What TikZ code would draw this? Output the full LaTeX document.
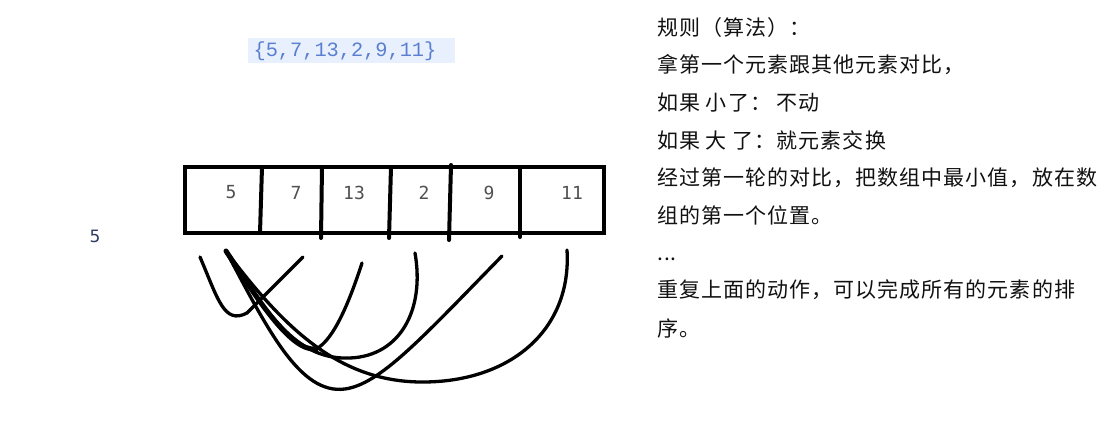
\documentclass[tikz,border=0pt]{standalone}
\usepackage{fontspec}
\setmainfont{DejaVu Sans}
\newfontfamily\cjkfont[LetterSpace=5]{Noto Sans CJK SC}
\newfontfamily\monofont{Liberation Mono}
\newfontfamily\cellfont{DejaVu Sans Mono}
\definecolor{codeblue}{HTML}{5B7FD0}
\definecolor{codebg}{HTML}{E7F0FC}
\definecolor{cellgray}{HTML}{505050}
\definecolor{leftblue}{HTML}{2C3E5E}
\definecolor{txt}{HTML}{111111}
\tikzset{
  cellnum/.style={inner sep=0pt, text=cellgray, font=\cellfont\fontsize{18}{20}\selectfont},
  rule/.style={inner sep=0pt, anchor=west, text=txt, font=\cjkfont\fontsize{21}{24}\selectfont},
  boxline/.style={line width=4pt, line cap=round},
  stroke/.style={line width=3.3pt, line cap=round, line join=round},
}
\begin{document}
\begin{tikzpicture}[x=1pt, y=-1pt]
\useasboundingbox (0,0) rectangle (1112,444);
% code text
\fill[codebg] (248,38) rectangle (455,63);
\node[inner sep=0pt, text=codeblue, font=\monofont\fontsize{20.3}{22}\selectfont] (code) at (345,51) {\{5,7,13,2,9,11\}};
% left 5
\node[inner sep=0pt, text=leftblue, font=\fontsize{17}{20}\selectfont] (lone) at (95,236) {5};
% array box
\draw[boxline] (185,167) rectangle (604,233);
\draw[boxline] (262,167) -- (260,233);
\draw[boxline] (322,167) -- (321,238);
\draw[boxline] (391,167) -- (389,238);
\draw[boxline] (451,165) -- (449,240);
\draw[boxline] (520,167) -- (520,237);
\node[cellnum] (c1) at (231,192) {5};
\node[cellnum] (c2) at (296,193) {7};
\node[cellnum] (c3) at (354,193) {13};
\node[cellnum] (c4) at (424,193) {2};
\node[cellnum] (c5) at (489,193) {9};
\node[cellnum] (c6) at (572,193) {11};
% curve endpoints
\coordinate (a0) at (200,257);
\coordinate (a1) at (303,257);
\coordinate (s) at (226,251);
\coordinate (e13) at (362,263);
\coordinate (e2) at (415,253);
\coordinate (e9) at (502,256);
\coordinate (e11) at (567,250);
% curves
\draw[stroke] (a0) .. controls (218,299) and (224,325) .. (247,313) -- (a1);
\draw[stroke, line width=5pt] (s) .. controls (255,295) and (290,352) .. (316,349);
\draw[stroke] (316,349) .. controls (334,340) and (350,300) .. (e13);
\draw[stroke] (s) .. controls (272,322) and (300,360) .. (350,358) .. controls (400,356) and (425,310) .. (e2);
\draw[stroke] (s) .. controls (268,330) and (300,395) .. (345,389) .. controls (380,384) and (420,340) .. (e9);
\draw[stroke] (s) .. controls (285,330) and (340,381) .. (420,382) .. controls (510,383) and (572,330) .. (e11);
% rules text
\node[rule] (r1) at (657,28) {规则（算法）：};
\node[rule] (r2) at (657,65) {拿第一个元素跟其他元素对比，};
\node[rule] (r3) at (657,103) {如果 小了： 不动};
\node[rule] (r4) at (657,140) {如果 大 了：就元素交换};
\node[rule] (r5) at (657,178) {经过第一轮的对比，把数组中最小值，放在数};
\node[rule] (r6) at (657,215) {组的第一个位置。};
\node[rule] (r7) at (657,259) {...};
\node[rule] (r8) at (657,290) {重复上面的动作，可以完成所有的元素的排};
\node[rule] (r9) at (657,328) {序。};
\end{tikzpicture}
\end{document}
